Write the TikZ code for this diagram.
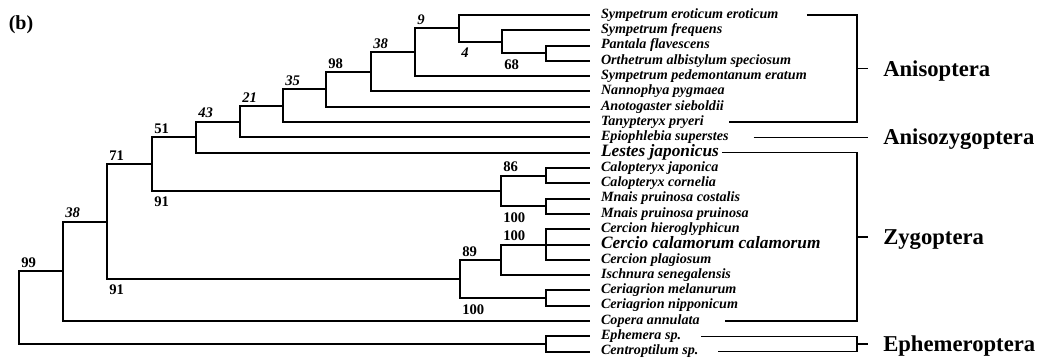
\documentclass[tikz,border=0pt]{standalone}
\usepackage{fontspec}
\setmainfont{Liberation Serif}
\usepackage{tikz}
\usetikzlibrary{positioning}

\begin{document}
\begin{tikzpicture}[
    x=0.75pt, y=-0.75pt,
    branch/.style={line width=1.5pt},
    brace/.style={line width=1.1pt},
    leaf/.style={
        anchor=west,
        inner xsep=0pt,
        inner ysep=0pt,
        outer xsep=8.25pt,
        text height=4.9pt,
        text depth=0pt,
        font=\fontsize{10.6}{12}\selectfont\bfseries\itshape
    },
    bigleaf/.style={
        leaf,
        text height=6pt,
        font=\fontsize{13}{15}\selectfont\bfseries\itshape
    },
    bootup/.style={
        anchor=south west,
        inner sep=1.5pt,
        yshift=1pt,
        font=\fontsize{11}{13}\selectfont\bfseries
    },
    bootdn/.style={
        anchor=north west,
        inner sep=1.5pt,
        yshift=-3pt,
        font=\fontsize{11}{13}\selectfont\bfseries
    },
    grp/.style={
        inner xsep=11.25pt,
        inner ysep=0pt,
        text height=11.2pt,
        text depth=0pt,
        font=\fontsize{17}{20}\selectfont\bfseries
    }
]

\useasboundingbox (0,0) rectangle (1039,360);

\node[font=\fontsize{15}{17}\selectfont\bfseries] (panel) at (21,25) {(b)};

\node[leaf] (seroti) at (590,15) {Sympetrum eroticum eroticum};
\node[leaf] (sfreq) at (590,30.3) {Sympetrum frequens};
\node[leaf] (pflav) at (590,45.6) {Pantala flavescens};
\node[leaf] (oalbi) at (590,60.9) {Orthetrum albistylum speciosum};
\node[leaf] (sped) at (590,76.2) {Sympetrum pedemontanum eratum};
\node[leaf] (npyg) at (590,91.5) {Nannophya pygmaea};
\node[leaf] (asieb) at (590,106.8) {Anotogaster sieboldii};
\node[leaf] (tpry) at (590,122.1) {Tanypteryx pryeri};
\node[leaf] (esup) at (590,137.4) {Epiophlebia superstes};
\node[bigleaf] (ljap) at (590,152.7) {Lestes japonicus};
\node[leaf] (cjap) at (590,168) {Calopteryx japonica};
\node[leaf] (ccor) at (590,183.3) {Calopteryx cornelia};
\node[leaf] (mcos) at (590,198.6) {Mnais pruinosa costalis};
\node[leaf] (mpru) at (590,213.9) {Mnais pruinosa pruinosa};
\node[leaf] (chier) at (590,229.2) {Cercion hieroglyphicun};
\node[bigleaf] (ccal) at (590,244.5) {Cercio calamorum calamorum};
\node[leaf] (cplag) at (590,259.8) {Cercion plagiosum};
\node[leaf] (isen) at (590,275.1) {Ischnura senegalensis};
\node[leaf] (cmel) at (590,290.4) {Ceriagrion melanurum};
\node[leaf] (cnip) at (590,305.7) {Ceriagrion nipponicum};
\node[leaf] (cann) at (590,321) {Copera annulata};
\node[leaf] (esp) at (590,336.3) {Ephemera sp.};
\node[leaf] (csp) at (590,351.6) {Centroptilum sp.};

\coordinate (pantorth) at (546,53.25);
\coordinate (frequens) at (502,41.8);
\coordinate (eroticum) at (459,28.4);
\coordinate (pedemont) at (415,52.3);
\coordinate (nannophya) at (371,71.9);
\coordinate (libellul) at (326,89.4);
\coordinate (anotogas) at (283,105.8);
\coordinate (anisopt) at (240,121.6);
\coordinate (epiophl) at (196,137.2);
\coordinate (calopt) at (546,175.7);
\coordinate (mnais) at (546,206.3);
\coordinate (calmna) at (501,191);
\coordinate (lestes) at (152,164.1);
\coordinate (cercion) at (546,244.5);
\coordinate (ischnura) at (501,259.8);
\coordinate (ceriag) at (546,298.1);
\coordinate (coenag) at (460,279);
\coordinate (odonata) at (107,221.6);
\coordinate (copera) at (63,271.3);
\coordinate (ephem) at (546,344);
\coordinate (root) at (19,307.7);

\draw[branch] (pantorth) |- (pflav.west);
\draw[branch] (pantorth) |- (oalbi.west);
\draw[branch] (frequens) |- (sfreq.west);
\draw[branch] (frequens) |- (pantorth);
\draw[branch] (eroticum) |- (seroti.west);
\draw[branch] (eroticum) |- (frequens);
\draw[branch] (pedemont) |- (eroticum);
\draw[branch] (pedemont) |- (sped.west);
\draw[branch] (nannophya) |- (pedemont);
\draw[branch] (nannophya) |- (npyg.west);
\draw[branch] (libellul) |- (nannophya);
\draw[branch] (libellul) |- (asieb.west);
\draw[branch] (anotogas) |- (libellul);
\draw[branch] (anotogas) |- (tpry.west);
\draw[branch] (anisopt) |- (anotogas);
\draw[branch] (anisopt) |- (esup.west);
\draw[branch] (epiophl) |- (anisopt);
\draw[branch] (epiophl) |- (ljap.west);
\draw[branch] (calopt) |- (cjap.west);
\draw[branch] (calopt) |- (ccor.west);
\draw[branch] (mnais) |- (mcos.west);
\draw[branch] (mnais) |- (mpru.west);
\draw[branch] (calmna) |- (calopt);
\draw[branch] (calmna) |- (mnais);
\draw[branch] (lestes) |- (epiophl);
\draw[branch] (lestes) |- (calmna);
\draw[branch] (cercion) |- (chier.west);
\draw[branch] (cercion) |- (ccal.west);
\draw[branch] (cercion) |- (cplag.west);
\draw[branch] (ischnura) |- (cercion);
\draw[branch] (ischnura) |- (isen.west);
\draw[branch] (ceriag) |- (cmel.west);
\draw[branch] (ceriag) |- (cnip.west);
\draw[branch] (coenag) |- (ischnura);
\draw[branch] (coenag) |- (ceriag);
\draw[branch] (odonata) |- (lestes);
\draw[branch] (odonata) |- (coenag);
\draw[branch] (copera) |- (odonata);
\draw[branch] (copera) |- (cann.west);
\draw[branch] (ephem) |- (esp.west);
\draw[branch] (ephem) |- (csp.west);
\draw[branch] (root) |- (copera);
\draw[branch] (root) |- (ephem);

\node[bootup] (s9) at (pedemont |- eroticum) {\textit{9}};
\node[bootdn] (s4) at (eroticum |- frequens) {\textit{4}};
\node[bootdn] (s68) at (frequens |- pantorth) {68};
\node[bootup] (s38) at (nannophya |- pedemont) {\textit{38}};
\node[bootup] (s98) at (libellul |- nannophya) {98};
\node[bootup] (s35) at (anotogas |- libellul) {\textit{35}};
\node[bootup] (s21) at (anisopt |- anotogas) {\textit{21}};
\node[bootup] (s43) at (epiophl |- anisopt) {\textit{43}};
\node[bootup] (s51) at (lestes |- epiophl) {51};
\node[bootdn] (s91a) at (lestes |- calmna) {91};
\node[bootup] (s86) at (calmna |- calopt) {86};
\node[bootdn] (s100a) at (calmna |- mnais) {100};
\node[bootup] (s100b) at (ischnura |- cercion) {100};
\node[bootup] (s89) at (coenag |- ischnura) {89};
\node[bootdn] (s100c) at (coenag |- ceriag) {100};
\node[bootup] (s71) at (odonata |- lestes) {71};
\node[bootdn] (s91b) at (odonata |- coenag) {91};
\node[bootup] (s38b) at (copera |- odonata) {\textit{38}};
\node[bootup] (s99) at (root |- copera) {99};

\coordinate (anisV) at (857,68.55);
\coordinate (anizV) at (857,137.4);
\coordinate (zygV) at (857,236.85);
\coordinate (ephV) at (857,343.95);

\node[grp, right=8.25pt of anisV] (anis) {Anisoptera};
\node[grp, right=8.25pt of anizV] (aniz) {Anisozygoptera};
\node[grp, right=8.25pt of zygV] (zyg) {Zygoptera};
\node[grp, right=8.25pt of ephV] (ephe) {Ephemeroptera};

\draw[brace] ([xshift=13pt]seroti.east) -| (anisV) |- ([xshift=10.5pt]tpry.east);
\draw[brace] (anisV) -- (anis);
\draw[brace] ([xshift=10.5pt]esup.east) -- (aniz);
\draw[brace] ([xshift=-6pt]ljap.east) -| (zygV) |- ([xshift=10.5pt]cann.east);
\draw[brace] (zygV) -- (zyg);
\draw[brace] ([xshift=6.75pt]esp.east) -| (ephV) |- ([xshift=6.75pt]csp.east);
\draw[brace] (ephV) -- (ephe);

\end{tikzpicture}
\end{document}
